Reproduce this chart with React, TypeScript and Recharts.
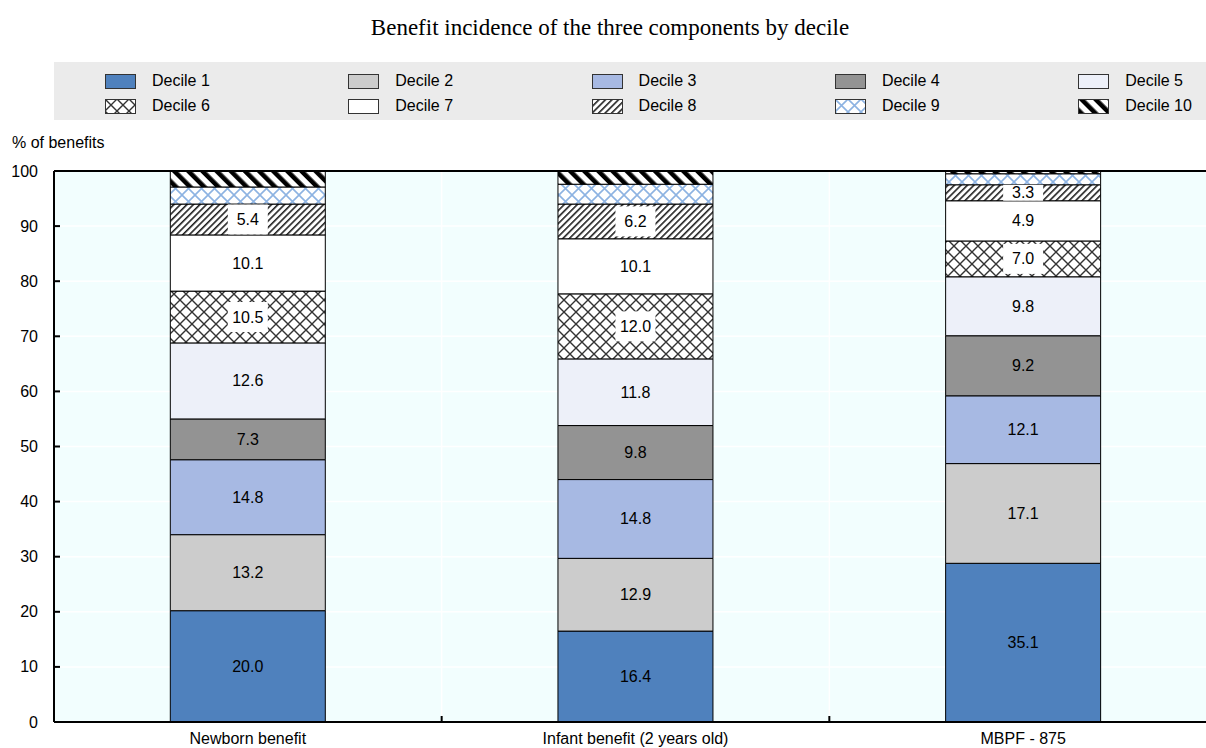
import React from 'react';
import { BarChart, Bar, XAxis, YAxis, CartesianGrid, ReferenceLine, LabelList } from 'recharts';

const categories = ['Newborn benefit', 'Infant benefit (2 years old)', 'MBPF - 875'];
// segment heights as drawn in the picture (% of benefits)
const decile1 = [20.2, 16.5, 28.8];
const decile2 = [13.8, 13.2, 18.1];
const decile3 = [13.6, 14.3, 12.3];
const decile4 = [7.4, 9.8, 10.9];
const decile5 = [13.8, 12.1, 10.7];
const decile6 = [9.4, 11.8, 6.5];
const decile7 = [10.2, 10.0, 7.3];
const decile8 = [5.6, 6.3, 2.9];
const decile9 = [3.1, 3.6, 2.0];
const decile10 = [2.9, 2.4, 0.5];
// value labels as printed on the segments
const labels1 = ['20.0', '16.4', '35.1'];
const labels2 = ['13.2', '12.9', '17.1'];
const labels3 = ['14.8', '14.8', '12.1'];
const labels4 = ['7.3', '9.8', '9.2'];
const labels5 = ['12.6', '11.8', '9.8'];
const labels6 = ['10.5', '12.0', '7.0'];
const labels7 = ['10.1', '10.1', '4.9'];
const labels8 = ['5.4', '6.2', '3.3'];
const seriesNames = ['Decile 1', 'Decile 2', 'Decile 3', 'Decile 4', 'Decile 5', 'Decile 6', 'Decile 7', 'Decile 8', 'Decile 9', 'Decile 10'];
const seriesValues = [decile1, decile2, decile3, decile4, decile5, decile6, decile7, decile8, decile9, decile10];
const seriesLabels: (string[] | null)[] = [labels1, labels2, labels3, labels4, labels5, labels6, labels7, labels8, null, null];
const yTicks = [0, 10, 20, 30, 40, 50, 60, 70, 80, 90, 100];

const FONT = "Arial, 'Liberation Sans', sans-serif";
const fills = ['#4F81BD', '#CCCCCC', '#A7B9E3', '#939393', '#EDF0F9', 'url(#p6)', '#FFFFFF', 'url(#p8)', 'url(#p9)', 'url(#p10)'];
const patterned = [false, false, false, false, false, true, false, true, true, true];

const data = categories.map((c, i) => {
  const row: any = { name: c };
  seriesValues.forEach((s, k) => {
    row['d' + (k + 1)] = s[i];
    const lab = seriesLabels[k];
    row['l' + (k + 1)] = lab ? lab[i] : null;
  });
  return row;
});

const Patterns = ({ prefix }: { prefix: string }) => (
  <defs>
    <pattern id={prefix + 'p6'} patternUnits="userSpaceOnUse" width="12" height="12">
      <rect width="12" height="12" fill="#fff" />
      <path d="M0,0 L12,12 M12,0 L0,12" stroke="#333" strokeWidth="1.4" />
    </pattern>
    <pattern id={prefix + 'p9'} patternUnits="userSpaceOnUse" width="13" height="13">
      <rect width="13" height="13" fill="#fff" />
      <path d="M0,0 L13,13 M13,0 L0,13" stroke="#8DB3E2" strokeWidth="1.6" />
    </pattern>
    <pattern id={prefix + 'p8'} patternUnits="userSpaceOnUse" width="4.6" height="4.6" patternTransform="rotate(45)">
      <rect width="4.6" height="4.6" fill="#fff" />
      <rect width="1.6" height="4.6" fill="#222" />
    </pattern>
    <pattern id={prefix + 'p10'} patternUnits="userSpaceOnUse" width="10" height="10" patternTransform="rotate(-45)">
      <rect width="10" height="10" fill="#fff" />
      <rect width="4.6" height="10" fill="#000" />
    </pattern>
  </defs>
);

const makeLabel = (boxed: boolean) => (props: any) => {
  const { x, y, width, height, value } = props;
  if (value == null || value === '') return null;
  const h = Math.abs(Number(height));
  const top = Math.min(Number(y), Number(y) + Number(height));
  const cx = Number(x) + Number(width) / 2;
  const cy = top + h / 2;
  const bh = Math.min(h, 30);
  return (
    <g>
      {boxed && <rect x={cx - 20} y={cy - bh / 2} width={40} height={bh} fill="#fff" />}
      <text x={cx} y={cy} textAnchor="middle" dominantBaseline="central" fontSize={16} fontFamily={FONT} fill="#000">
        {String(value)}
      </text>
    </g>
  );
};

const Y_TICK_MARGIN = 16;
const X_TICK_MARGIN = 8;

const YTick = (props: any) => {
  const { x, y, payload } = props;
  return (
    <g>
      <line x1={x + Y_TICK_MARGIN} x2={x + Y_TICK_MARGIN + 6} y1={y} y2={y} stroke="#000" strokeWidth={2} />
      <text x={x} y={y} textAnchor="end" dominantBaseline="central" fontSize={16} fontFamily={FONT} fill="#000">
        {payload.value}
      </text>
    </g>
  );
};

const XTick = (props: any) => {
  const { x, y, payload, index } = props;
  const axisY = y - X_TICK_MARGIN;
  const half = payload && payload.offset ? payload.offset : 0;
  return (
    <g>
      {index < categories.length - 1 && half > 0 && (
        <line x1={x + half} x2={x + half} y1={axisY} y2={axisY - 6} stroke="#000" strokeWidth={2} />
      )}
      <text x={x} y={y + 14} textAnchor="middle" fontSize={16} fontFamily={FONT} fill="#000">
        {payload.value}
      </text>
    </g>
  );
};

const LegendSwatch = ({ k }: { k: number }) => {
  const prefix = 'lg' + k;
  const f = patterned[k] ? `url(#${prefix}p${k + 1})` : fills[k];
  return (
    <svg width={31} height={15} style={{ display: 'block' }}>
      <Patterns prefix={prefix} />
      <rect x={0.5} y={0.5} width={30} height={14} fill={f} stroke="#333" strokeWidth={1} />
    </svg>
  );
};

export default function App() {
  return (
    <div style={{ position: 'absolute', left: 0, top: 0, width: 1206, height: 748, background: '#fff', fontFamily: FONT, overflow: 'hidden' }}>
      <svg width={0} height={0} style={{ position: 'absolute' }}>
        <Patterns prefix="" />
      </svg>
      <div style={{ position: 'absolute', left: 110, width: 1000, top: 14, textAlign: 'center', fontFamily: "'Times New Roman', 'Liberation Serif', serif", fontSize: 23, lineHeight: '28px', whiteSpace: 'nowrap' }}>
        Benefit incidence of the three components by decile
      </div>
      <div style={{ position: 'absolute', left: 54, top: 62, width: 1152, height: 58, background: '#EBEBEB' }}>
        {seriesNames.map((n, k) => {
          const col = k % 5;
          const row = Math.floor(k / 5);
          return (
            <div key={n} style={{ position: 'absolute', left: 51 + col * 243.3, top: 19 + row * 25 - 8, height: 16, display: 'flex', alignItems: 'center' }}>
              <LegendSwatch k={k} />
              <span style={{ marginLeft: 16, fontSize: 16, lineHeight: '16px', whiteSpace: 'nowrap' }}>{n}</span>
            </div>
          );
        })}
      </div>
      <div style={{ position: 'absolute', left: 12, top: 134, fontSize: 16, lineHeight: '18px', whiteSpace: 'nowrap' }}>% of benefits</div>
      <div style={{ position: 'absolute', left: 0, top: 0 }}>
        <BarChart width={1206} height={748} data={data} margin={{ top: 171, right: -11, left: 10, bottom: 6 }} barCategoryGap="30%">
          <CartesianGrid
            fill="#F2FEFE"
            stroke="#FFFFFF"
            strokeWidth={1.5}
            verticalCoordinatesGenerator={({ offset }: any) =>
              categories.slice(1).map((_, i) => offset.left + (offset.width * (i + 1)) / categories.length)
            }
          />
          <XAxis dataKey="name" height={20} tickSize={0} tickMargin={X_TICK_MARGIN} tickLine={false} axisLine={{ stroke: '#000', strokeWidth: 2 }} tick={<XTick />} interval={0} />
          <YAxis width={44} domain={[0, 100]} ticks={yTicks} tickSize={0} tickMargin={Y_TICK_MARGIN} tickLine={false} axisLine={{ stroke: '#000', strokeWidth: 2 }} tick={<YTick />} interval={0} />
          {seriesNames.map((n, k) => (
            <Bar key={n} dataKey={'d' + (k + 1)} name={n} stackId="a" fill={fills[k]} stroke="#000" strokeWidth={1} isAnimationActive={false}>
              {seriesLabels[k] && <LabelList dataKey={'l' + (k + 1)} content={makeLabel(k === 5 || k === 7)} />}
            </Bar>
          ))}
          <ReferenceLine y={100} stroke="#000" strokeWidth={2} />
        </BarChart>
      </div>
    </div>
  );
}
